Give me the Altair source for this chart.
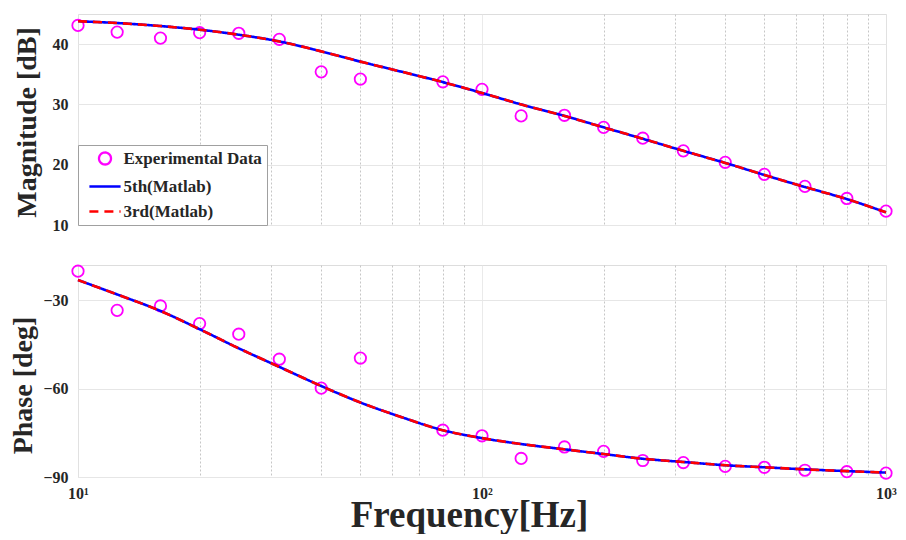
import altair as alt
import pandas as pd

# ---- data ----
freq_exp = [10, 12.5, 16, 20, 25, 31.5, 40, 50, 80, 100, 125, 160, 200, 250, 315, 400, 500, 630, 800, 1000]
mag_exp = [43.1, 42.0, 41.0, 41.9, 41.8, 40.8, 35.4, 34.2, 33.75, 32.5, 28.1, 28.2, 26.2, 24.4, 22.3, 20.4, 18.4, 16.4, 14.4, 12.3]
phase_exp = [-20.1, -33.4, -31.9, -37.9, -41.5, -50.0, -59.8, -49.6, -74.1, -76.0, -83.7, -79.8, -81.3, -84.4, -85.1, -86.4, -86.7, -87.7, -88.2, -88.7]

freq_fit = [10, 12.5, 16, 20, 25, 31.5, 40, 50, 63, 80, 100, 125, 160, 200, 250, 315, 400, 500, 630, 800, 1000]
mag_fit = [43.8, 43.5, 43.0, 42.4, 41.56, 40.45, 38.8, 37.1, 35.45, 33.7, 31.9, 30.0, 28.1, 26.2, 24.3, 22.3, 20.3, 18.3, 16.3, 14.3, 12.1]
phase_fit = [-23.1, -28.0, -33.6, -39.8, -46.3, -52.6, -59.1, -64.7, -69.6, -74.1, -76.8, -78.8, -80.6, -82.2, -83.8, -84.9, -86.0, -86.7, -87.4, -88.0, -88.5]

series = ["Experimental Data", "5th(Matlab)", "3rd(Matlab)"]
colors = ["#FF00FF", "#0000FF", "#FF0000"]

x_ticks = [10, 20, 30, 40, 50, 60, 70, 80, 90, 100, 200, 300, 400, 500, 600, 700, 800, 900, 1000]
mag_ticks = [10, 20, 30, 40]
phase_ticks = [-90, -60, -30]

exp_df = pd.DataFrame({"f": freq_exp, "mag": mag_exp, "phase": phase_exp, "series": series[0]})
fit5_df = pd.DataFrame({"f": freq_fit, "mag": mag_fit, "phase": phase_fit, "series": series[1]})
fit3_df = pd.DataFrame({"f": freq_fit, "mag": mag_fit, "phase": phase_fit, "series": series[2]})

FONT = "Liberation Serif"
TXT = "#262626"
LINE_PATH = "M-2.6,0L2.6,0"

major_test = "datum.value == 10 || datum.value == 100 || datum.value == 1000"
grid_dash = {"condition": {"test": major_test, "value": [1, 0]}, "value": [2, 2]}
grid_color = {"condition": {"test": major_test, "value": "#e2e2e2"}, "value": "#c6c6c6"}
label_expr = "datum.value == 10 ? '10¹' : datum.value == 100 ? '10²' : datum.value == 1000 ? '10³' : ''"

x_scale = alt.Scale(type="log", domain=[10, 1000], nice=False)
color_scale = alt.Scale(domain=series, range=colors)
shape_scale = alt.Scale(domain=series, range=["circle", LINE_PATH, LINE_PATH])
dash_scale = alt.Scale(domain=series, range=[[1, 0], [1, 0], [9, 6]])

legend = alt.Legend(
    title=None, orient="none", legendX=0, legendY=131,
    fillColor="white", strokeColor="#a0a0a0", padding=5,
    labelFont=FONT, labelFontSize=17, labelFontWeight="bold", labelColor=TXT,
    symbolSize=144, symbolStrokeWidth=2.3, rowPadding=7,
    symbolOffset=13.5, labelOffset=10,
)


def panel(field, y_scale, y_axis, x_axis, show_legend, height):
    lg = legend if show_legend else None
    x = alt.X("f:Q", scale=x_scale, axis=x_axis)
    y = alt.Y(f"{field}:Q", scale=y_scale, axis=y_axis)
    color = alt.Color("series:N", scale=color_scale, legend=lg)
    dash = alt.StrokeDash("series:N", scale=dash_scale, legend=lg)
    shape = alt.Shape("series:N", scale=shape_scale, legend=lg)
    pts = alt.Chart(exp_df).mark_point(filled=False, size=130, strokeWidth=1.8, opacity=1).encode(
        x=x, y=y, color=color, shape=shape)
    l5 = alt.Chart(fit5_df).mark_line(strokeWidth=2.6, interpolate="monotone").encode(
        x=x, y=y, color=color, strokeDash=dash)
    l3 = alt.Chart(fit3_df).mark_line(strokeWidth=2.6, interpolate="monotone").encode(
        x=x, y=y, color=color, strokeDash=dash)
    return alt.layer(pts, l5, l3).properties(width=808, height=height)


common_y = dict(
    labelFont=FONT, labelFontSize=16, labelFontWeight="bold", labelColor=TXT, labelPadding=10,
    titleFont=FONT, titleFontSize=28, titleFontWeight="bold", titleColor=TXT,
    grid=True, gridColor="#e6e6e6", domain=False, ticks=False, minExtent=0,
)

top = panel(
    "mag",
    alt.Scale(domain=[10, 45], nice=False, zero=False),
    alt.Axis(title="Magnitude [dB]", values=mag_ticks, titleX=-37, titleY=108, **common_y),
    alt.Axis(title=None, labels=False, values=x_ticks, grid=True, gridDash=grid_dash,
             gridColor=grid_color, domain=False, ticks=False, minExtent=0, maxExtent=0),
    True, 211,
)

bottom = panel(
    "phase",
    alt.Scale(domain=[-90, -18], nice=False, zero=False),
    alt.Axis(title="Phase [deg]", values=phase_ticks, titleX=-41, titleY=120, **common_y),
    alt.Axis(title="Frequency[Hz]", values=x_ticks, labelExpr=label_expr, labelFlush=False,
             labelFont=FONT, labelFontSize=16, labelFontWeight="bold", labelColor=TXT,
             labelPadding=8, labelOverlap=False,
             titleFont=FONT, titleFontSize=37, titleFontWeight="bold", titleColor=TXT,
             titleX=391, titleY=49, titleBaseline="alphabetic",
             grid=True, gridDash=grid_dash, gridColor=grid_color, domain=False, ticks=False),
    False, 212,
)

chart = (
    alt.vconcat(top, bottom, spacing=27)
    .resolve_scale(color="independent", shape="independent", strokeDash="independent")
    .properties(padding={"left": 0, "top": 5, "right": 0, "bottom": 0})
    .configure_view(stroke="#b0b0b0", strokeWidth=1)
    .configure(background="white")
)

chart.save("out.html", embed_options={"renderer": "svg", "actions": False})
